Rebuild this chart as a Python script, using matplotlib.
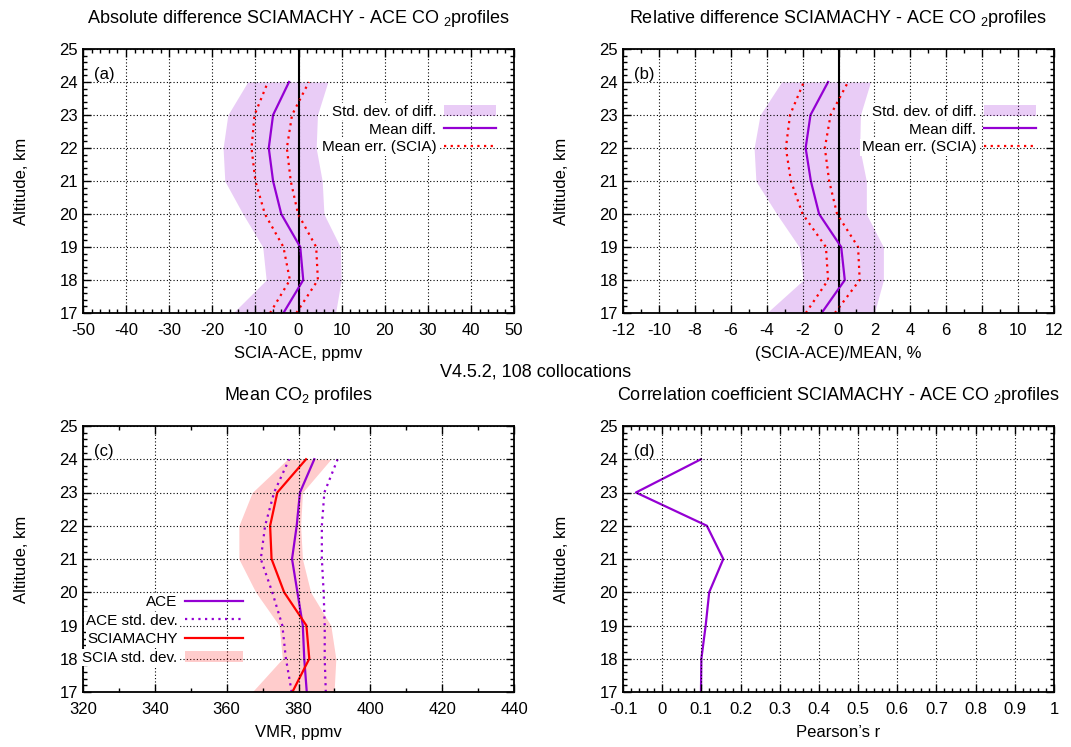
import numpy as np
import matplotlib
matplotlib.use('Agg')
import matplotlib.pyplot as plt
from matplotlib.ticker import MultipleLocator, FuncFormatter

plt.rcParams['font.family'] = ['Liberation Sans', 'DejaVu Sans']
plt.rcParams['mathtext.fontset'] = 'custom'
plt.rcParams['mathtext.rm'] = 'Liberation Sans'
plt.rcParams['mathtext.it'] = 'Liberation Sans:italic'

# altitude levels, km
alt = [17, 18, 19, 20, 21, 22, 23, 24]

# (a) absolute difference, ppmv
abs_mean = [-3.5, 1.1, 0.4, -4.0, -5.9, -6.9, -5.9, -2.2]
abs_sd_lo = [-15.2, -7.5, -8.3, -12.9, -17.1, -17.5, -16.4, -11.8]
abs_sd_hi = [8.6, 9.9, 9.7, 5.9, 5.5, 4.1, 4.4, 6.8]
abs_err_lo = [-6.6, -2.0, -3.5, -7.8, -10.0, -10.9, -10.2, -7.1]
abs_err_hi = [-0.5, 4.5, 4.1, -0.1, -1.8, -2.7, -1.5, 2.4]

# (b) relative difference, %
rel_mean = [-0.94, 0.35, 0.15, -1.08, -1.54, -1.83, -1.56, -0.58]
rel_sd_lo = [-4.0, -1.96, -2.19, -3.44, -4.6, -4.7, -4.37, -3.17]
rel_sd_hi = [2.0, 2.5, 2.5, 1.55, 1.55, 1.18, 1.22, 1.78]
rel_err_lo = [-1.82, -0.58, -0.7, -2.0, -2.65, -2.93, -2.7, -1.93]
rel_err_hi = [-0.2, 1.18, 1.09, -0.08, -0.52, -0.76, -0.44, 0.53]

# (c) mean profiles, ppmv
ace = [382.3, 381.6, 381.2, 379.7, 378.2, 379.5, 380.4, 384.4]
ace_lo = [378.1, 376.5, 375.5, 372.7, 369.5, 370.7, 373.2, 377.4]
ace_hi = [387.6, 387.3, 387.3, 387.0, 386.5, 386.5, 387.2, 390.9]
scia = [378.3, 383.0, 382.2, 376.0, 372.5, 372.1, 374.1, 382.1]
scia_lo = [367.1, 375.5, 374.6, 368.1, 363.4, 363.4, 367.1, 376.9]
scia_hi = [389.9, 390.4, 389.0, 383.4, 381.1, 380.6, 381.1, 389.0]

# (d) correlation
corr = [0.099, 0.100, 0.111, 0.120, 0.156, 0.114, -0.067, 0.099]

violet = '#9400d3'
red = '#ff0000'
dots = (0, (1, 2))
FS = 12
TFS = 13

fig = plt.figure(figsize=(10.71, 7.47), dpi=100)
W, H = 1071, 747
def rect(l, t, r, b):
    return [l / W, 1 - b / H, (r - l) / W, (b - t) / H]

axa = fig.add_axes(rect(83, 49, 514, 313))
axb = fig.add_axes(rect(623, 49, 1054, 313))
axc = fig.add_axes(rect(83, 426, 514, 692))
axd = fig.add_axes(rect(623, 426, 1054, 692))

def style(ax, xlim, xmaj, xmin, xlabel, title, tag):
    ax.set_xlim(*xlim)
    ax.set_ylim(17, 25)
    ax.xaxis.set_major_locator(MultipleLocator(xmaj))
    ax.xaxis.set_minor_locator(MultipleLocator(xmin))
    ax.yaxis.set_major_locator(MultipleLocator(1))
    ax.yaxis.set_minor_locator(MultipleLocator(0.2))
    ax.xaxis.set_major_formatter(FuncFormatter(lambda v, p: '%g' % round(v, 6)))
    ax.tick_params(which='both', direction='in', top=True, right=True, labelsize=FS)
    ax.tick_params(which='major', length=6, width=1)
    ax.tick_params(which='minor', length=3, width=1)
    ax.tick_params(axis='x', pad=7)
    for s in ax.spines.values():
        s.set_linewidth(1.3)
    ax.grid(True, which='major', color='black', linestyle=dots, linewidth=0.8)
    ax.set_axisbelow(False)
    ax.set_xlabel(xlabel, fontsize=FS, labelpad=6)
    ax.set_ylabel('Altitude, km', fontsize=FS, labelpad=22)
    ax.set_title(title, fontsize=TFS, pad=19)
    ax.text(0.025, 0.905, tag, transform=ax.transAxes, fontsize=FS, va='center')

def blank_texts(leg):
    for t in leg.get_texts():
        t.set_bbox(dict(facecolor='white', edgecolor='none', pad=1))

# (a)
style(axa, (-50, 50), 10, 2, 'SCIA-ACE, ppmv',
      'Absolute difference SCIAMACHY - ACE CO $_2$profiles', '(a)')
axa.fill_betweenx(alt, abs_sd_lo, abs_sd_hi, color=violet, alpha=0.2, lw=0,
                  label='Std. dev. of diff.')
axa.axvline(0, color='black', lw=1.5)
axa.plot(abs_mean, alt, color=violet, lw=1.6, label='Mean diff.')
axa.plot(abs_err_lo, alt, color=red, lw=1.6, ls=dots, label='Mean err. (SCIA)')
axa.plot(abs_err_hi, alt, color=red, lw=1.6, ls=dots)

# (b)
style(axb, (-12, 12), 2, 1, '(SCIA-ACE)/MEAN, %',
      'Relative difference SCIAMACHY - ACE CO $_2$profiles', '(b)')
axb.fill_betweenx(alt, rel_sd_lo, rel_sd_hi, color=violet, alpha=0.2, lw=0,
                  label='Std. dev. of diff.')
axb.axvline(0, color='black', lw=1.5)
axb.plot(rel_mean, alt, color=violet, lw=1.6, label='Mean diff.')
axb.plot(rel_err_lo, alt, color=red, lw=1.6, ls=dots, label='Mean err. (SCIA)')
axb.plot(rel_err_hi, alt, color=red, lw=1.6, ls=dots)

for ax in (axa, axb):
    leg = ax.legend(loc='upper right', bbox_to_anchor=(0.965, 0.8), fontsize=11,
                    markerfirst=False, handlelength=3.4, handletextpad=0.5,
                    labelspacing=0.25, borderpad=0.2, borderaxespad=0,
                    frameon=False)
    blank_texts(leg)

# (c)
style(axc, (320, 440), 20, 10, 'VMR, ppmv', 'Mean CO$_2$ profiles', '(c)')
band_c = axc.fill_betweenx(alt, scia_lo, scia_hi, color=red, alpha=0.2, lw=0)
l_ace, = axc.plot(ace, alt, color=violet, lw=1.6)
l_acesd, = axc.plot(ace_lo, alt, color=violet, lw=1.6, ls=dots)
axc.plot(ace_hi, alt, color=violet, lw=1.6, ls=dots)
l_scia, = axc.plot(scia, alt, color=red, lw=1.6)
leg = axc.legend([l_ace, l_acesd, l_scia, band_c],
                 ['ACE', 'ACE std. dev.', 'SCIAMACHY', 'SCIA std. dev.'], loc='upper right',
                 bbox_to_anchor=(0.375, 0.37), fontsize=11, markerfirst=False,
                 handlelength=3.8, handletextpad=0.5, labelspacing=0.3, borderpad=0.1,
                 borderaxespad=0, frameon=False)
blank_texts(leg)

# (d)
style(axd, (-0.1, 1.0), 0.1, 0.02, 'Pearson\u2019s r',
      'Correlation coefficient SCIAMACHY - ACE CO $_2$profiles', '(d)')
axd.plot(corr, alt, color=violet, lw=1.6)

fig.text(0.5, 1 - 372 / H, 'V4.5.2, 108 collocations', ha='center', va='center',
         fontsize=TFS)

fig.savefig('out.png', dpi=100)
